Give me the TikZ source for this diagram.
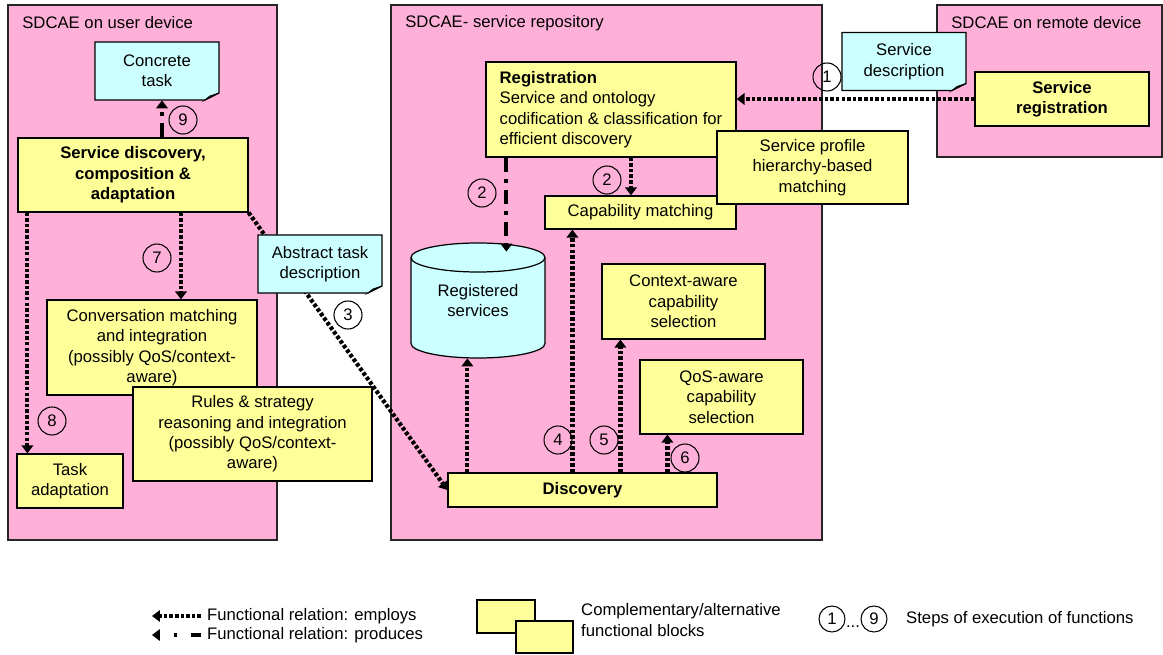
\documentclass[tikz,border=0pt]{standalone}
\usepackage{fontspec}
\setmainfont{Liberation Sans}
\usetikzlibrary{arrows.meta}
\definecolor{pinkbg}{RGB}{255,176,216}
\definecolor{blockyellow}{RGB}{255,255,153}
\definecolor{notecyan}{RGB}{204,255,255}
\definecolor{foldgray}{RGB}{150,196,196}
\newdimen\pxu \pxu=0.02cm
\newcommand\diafont{\fontsize{9.5pt}{11.6pt}\selectfont}
\tikzset{
  panel/.style={draw=black!85, fill=pinkbg, line width=0.8pt},
  block/.style={draw, fill=blockyellow, line width=0.7pt, align=center, inner sep=0pt},
  boldblock/.style={block, font=\diafont\bfseries},
  notefill/.style={draw, fill=notecyan, line width=0.7pt},
  foldfill/.style={draw, fill=foldgray, line width=0.5pt},
  notetext/.style={minimum width=124\pxu, minimum height=58\pxu, align=center, inner sep=0pt},
  stepno/.style={circle, draw, line width=0.6pt, minimum size=28\pxu, inner sep=0pt},
  employs/.style={line width=2.4pt, dash pattern=on 2pt off 1.2pt, -{Triangle[length=4.5pt,width=6.5pt]}},
  produces/.style={line width=2.4pt, dash pattern=on 8pt off 4pt on 2.3pt off 4pt, -{Triangle[length=4.5pt,width=6.5pt]}}
}
% note with folded corner, drawn round a named text node
\newcommand\notebox[4]{%
  \draw[notefill] (#2,#3) ++(-62,-29) -- ++(124,0) -- ++(0,51) -- ++(-14,7) -- ++(-110,0) -- cycle;
  \draw[foldfill] (#2,#3) ++(48,29) -- ++(14,-7) -- ++(-9,3) -- cycle;
  \node[notetext] (#1) at (#2,#3) {#4};
}
\begin{document}
\begin{tikzpicture}[x=0.02cm, y=-0.02cm, font=\diafont]
  \useasboundingbox (0,0) rectangle (1163,655);
  % the three SDCAE panels
  \draw[panel] (8,5) rectangle (277,540);
  \draw[panel] (391,5) rectangle (822,540);
  \draw[panel] (937,5) rectangle (1162,157);
  \node[anchor=west, inner sep=0pt] (ttluser) at (22,23) {SDCAE on user device};
  \node[anchor=west, inner sep=0pt] (ttlrepo) at (405,23) {SDCAE- service repository};
  \node[anchor=west, inner sep=0pt] (ttlremote) at (951,23) {SDCAE on remote device};

  % user device
  \node[boldblock, minimum width=230\pxu, minimum height=74\pxu] (sd) at (133,175) {Service discovery,\\composition \&\\adaptation};
  \node[block, minimum width=210\pxu, minimum height=95\pxu] (conv) at (152,347.5) {Conversation matching\\and integration\\(possibly QoS/context-\\aware)};
  \node[block, minimum width=239\pxu, minimum height=94\pxu] (rules) at (252.5,434) {Rules \& strategy\\reasoning and integration\\(possibly QoS/context-\\aware)};
  \node[block, minimum width=106\pxu, minimum height=54\pxu] (tadapt) at (70,481) {Task\\adaptation};

  % repository
  \node[block, align=left, minimum width=250\pxu, minimum height=95\pxu] (reg) at (611,109.5) {\textbf{Registration}\\Service and ontology\\codification \& classification for\\efficient discovery};
  \node[block, minimum width=191\pxu, minimum height=33\pxu] (capm) at (640.5,212.5) {Capability matching};
  \node[block, minimum width=191\pxu, minimum height=73\pxu] (prof) at (812.5,167.5) {Service profile\\hierarchy-based\\matching};
  \node[block, minimum width=163\pxu, minimum height=75\pxu] (ctxa) at (683.5,301.5) {Context-aware\\capability\\selection};
  \node[block, minimum width=163\pxu, minimum height=74\pxu] (qosa) at (721.5,397) {QoS-aware\\capability\\selection};
  \node[boldblock, minimum width=269\pxu, minimum height=34\pxu] (disc) at (582.5,490) {Discovery};
  \draw[notefill] (411,257.5) -- (411,343.5) arc[start angle=180, end angle=0, x radius=67, y radius=14.5]
    -- (545,257.5) arc[start angle=0, end angle=-180, x radius=67, y radius=14.5] -- cycle;
  \draw[line width=0.7pt] (411,257.5) arc[start angle=180, end angle=0, x radius=67, y radius=14.5];
  \node[minimum width=134\pxu, minimum height=115\pxu, align=center, inner sep=0pt] (regsvc) at (478,300.5) {Registered\\services};

  % remote device
  \node[boldblock, minimum width=174\pxu, minimum height=54\pxu] (sreg) at (1062,99) {Service\\registration};

  \notebox{ctask}{157}{71}{Concrete\\task}
  \notebox{sdesc}{904}{61.5}{Service\\description}

  % functional relations
  \draw[employs] (sreg.west) -- (sreg.west -| reg.east);
  \draw[produces] ([xshift=21\pxu]reg.south west) coordinate (p2a) -- ([yshift=-9\pxu]p2a |- regsvc.north);
  \draw[employs] ([xshift=20\pxu]reg.south) coordinate (p2b) -- (p2b |- capm.north);
  \draw[produces] ([xshift=29\pxu]sd.north) coordinate (p9) -- (p9 |- ctask.south);
  \draw[employs] ([xshift=48\pxu]sd.south) coordinate (p7) -- (p7 |- conv.north);
  \draw[employs] ([xshift=10\pxu]sd.south west) coordinate (p8) -- (p8 |- tadapt.north);
  \draw[employs] (sd.south east) -- (disc.west);
  \draw[employs] ([xshift=20\pxu]disc.north west) coordinate (pr) -- (pr |- regsvc.south);
  \draw[employs] ([xshift=125\pxu]disc.north west) coordinate (p4) -- (p4 |- capm.south);
  \draw[employs] ([xshift=173\pxu]disc.north west) coordinate (p5) -- (p5 |- ctxa.south);
  \draw[employs] ([xshift=220\pxu]disc.north west) coordinate (p6) -- (p6 |- qosa.south);

  \notebox{atask}{320}{264}{Abstract task\\description}

  % steps
  \node[stepno] (s1) at (827,77) {1};
  \node[stepno] (s2a) at (482,193) {2};
  \node[stepno] (s2b) at (607,180) {2};
  \node[stepno] (s3) at (348,315) {3};
  \node[stepno] (s4) at (558,440) {4};
  \node[stepno] (s5) at (604,440) {5};
  \node[stepno] (s6) at (685,458) {6};
  \node[stepno] (s7) at (157,258) {7};
  \node[stepno] (s8) at (52,421) {8};
  \node[stepno] (s9) at (183,120) {9};

  % legend
  \node[anchor=west] (lgemp) at (201,616) {Functional relation: employs};
  \node[anchor=west] (lgprod) at (201,635) {Functional relation: produces};
  \coordinate (lgempend) at (152,616);
  \coordinate (lgprodend) at (152,635);
  \draw[employs] (lgemp.west) -- (lgempend);
  \draw[produces, dash pattern=on 5.5pt off 8pt on 2pt off 8pt] (lgprod.west) -- (lgprodend);
  \node[block, minimum width=58\pxu, minimum height=33\pxu] (lgblka) at (506,616.5) {};
  \node[block, minimum width=57\pxu, minimum height=32\pxu] (lgblkb) at (544.5,637) {};
  \node[anchor=west, align=left] (lgblktxt) at (575,620) {Complementary/alternative\\functional blocks};
  \node[stepno, minimum size=26\pxu] (lgfirst) at (832,619) {1};
  \node[anchor=base, inner sep=0pt] (lgdots) at (853,627) {...};
  \node[stepno, minimum size=26\pxu] (lglast) at (874,619) {9};
  \node[anchor=west] (lgsteps) at (900,619) {Steps of execution of functions};
\end{tikzpicture}
\end{document}
